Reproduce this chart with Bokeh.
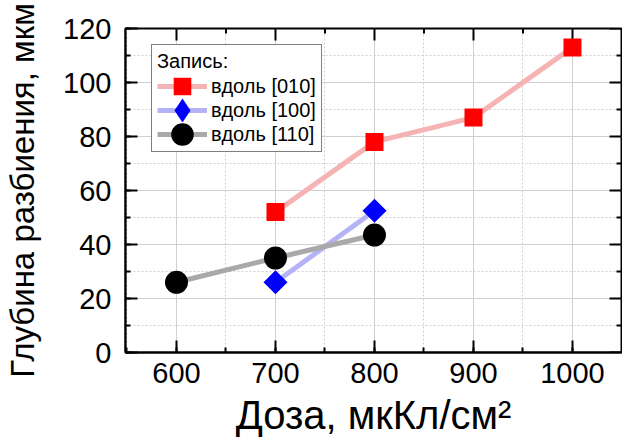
from bokeh.plotting import figure
from bokeh.models import Range1d, Legend, SingleIntervalTicker
from bokeh.embed import file_html
from bokeh.resources import INLINE
import math

# ---- data ----
dose_010 = [700, 800, 900, 1000]
depth_010 = [52, 78, 87, 113]
dose_100 = [700, 800]
depth_100 = [26, 52.5]
dose_110 = [600, 700, 800]
depth_110 = [26, 35, 43.5]

x_ticks = [600, 700, 800, 900, 1000]
y_ticks = [0, 20, 40, 60, 80, 100, 120]
x_minor = [(a + b) / 2 for a, b in zip(x_ticks, x_ticks[1:])]
y_minor = [(a + b) / 2 for a, b in zip(y_ticks, y_ticks[1:])]

FONT = "Liberation Sans"

xr = Range1d(548.5, 1049.5)
yr = Range1d(0, 120)

p = figure(width=622, height=443, x_range=xr, y_range=yr,
           output_backend="svg", toolbar_location=None,
           min_border_left=125, min_border_top=28, min_border_bottom=91,
           min_border_right=1, x_axis_label="Доза, мкКл/см²",
           y_axis_label="Глубина разбиения, мкм")

p.outline_line_color = "black"
p.outline_line_width = 2
p.background_fill_color = "white"
p.border_fill_color = "white"

xt = SingleIntervalTicker(interval=100, num_minor_ticks=2)
yt = SingleIntervalTicker(interval=20, num_minor_ticks=2)

def style_axis(ax):
    ax.major_tick_in = 12
    ax.major_tick_out = 0
    ax.minor_tick_in = 5
    ax.minor_tick_out = 0
    ax.major_tick_line_width = 2
    ax.minor_tick_line_width = 2
    ax.axis_line_width = 2
    ax.major_tick_line_color = "black"
    ax.minor_tick_line_color = "black"
    ax.axis_line_color = "black"
    ax.major_label_text_font = FONT
    ax.major_label_text_font_size = "29px"
    ax.major_label_text_color = "black"
    ax.axis_label_text_font = FONT
    ax.axis_label_text_font_style = "normal"
    ax.axis_label_text_color = "black"

for ax in p.xaxis:
    ax.ticker = xt
    style_axis(ax)
    ax.major_label_standoff = 10
    ax.axis_label_standoff = 7
    ax.axis_label_text_font_size = "40px"
for ax in p.yaxis:
    ax.ticker = yt
    style_axis(ax)
    ax.major_label_standoff = 14
    ax.axis_label_standoff = 19
    ax.axis_label_text_font_size = "33px"

# inward ticks on the top and right frame edges
p.ray(x=x_ticks, y=[yr.end] * len(x_ticks), length=12, length_units="screen",
      angle=-math.pi / 2, line_color="black", line_width=2)
p.ray(x=x_minor, y=[yr.end] * len(x_minor), length=5, length_units="screen",
      angle=-math.pi / 2, line_color="black", line_width=2)
p.ray(x=[xr.end] * len(y_ticks), y=y_ticks, length=12, length_units="screen",
      angle=math.pi, line_color="black", line_width=2)
p.ray(x=[xr.end] * len(y_minor), y=y_minor, length=5, length_units="screen",
      angle=math.pi, line_color="black", line_width=2)

p.xgrid.ticker = xt
p.ygrid.ticker = yt
for g in (p.xgrid, p.ygrid):
    g.grid_line_color = "#d0d0d0"
    g.grid_line_width = 1
    g.minor_grid_line_color = "#d0d0d0"
    g.minor_grid_line_width = 1
    g.minor_grid_line_dash = "2 2"

# ---- series ----
l1 = p.line(dose_010, depth_010, line_color="#f5b3b3", line_width=5)
m1 = p.scatter(dose_010, depth_010, marker="square", size=10,
               fill_color="#ff0000", line_color="#ff0000", line_width=8,
               line_join="miter")
l2 = p.line(dose_100, depth_100, line_color="#b3b3f5", line_width=5)
m2 = p.scatter(dose_100, depth_100, marker="square", size=9, angle=math.pi / 4,
               fill_color="#0000ff", line_color="#0000ff", line_width=8,
               line_join="miter")
# legend-only diamond symbol (NaN position, never drawn in the plot)
m2_leg = p.scatter([float("nan")], [float("nan")], marker="diamond", size=9,
                   fill_color="#0000ff", line_color="#0000ff", line_width=8,
                   line_join="miter")
l3 = p.line(dose_110, depth_110, line_color="#a9a9a9", line_width=5)
m3 = p.scatter(dose_110, depth_110, marker="circle", size=10,
               fill_color="black", line_color="black", line_width=13)

legend = Legend(items=[("вдоль [010]", [l1, m1]),
                       ("вдоль [100]", [l2, m2_leg]),
                       ("вдоль [110]", [l3, m3])],
                location=(26, 200))
legend.title = "Запись:"
legend.title_text_font = FONT
legend.title_text_font_size = "20px"
legend.title_text_font_style = "normal"
legend.title_text_color = "black"
legend.title_standoff = 1
legend.label_text_font = FONT
legend.label_text_font_size = "20px"
legend.label_text_color = "black"
legend.border_line_color = "black"
legend.border_line_width = 1.5
legend.background_fill_color = "white"
legend.background_fill_alpha = 1
legend.padding = 5
legend.spacing = 0
legend.margin = 0
legend.glyph_width = 50
legend.glyph_height = 24
legend.label_height = 24
legend.label_standoff = 4
p.add_layout(legend, "center")

open("out.html", "w").write(file_html(p, INLINE))
